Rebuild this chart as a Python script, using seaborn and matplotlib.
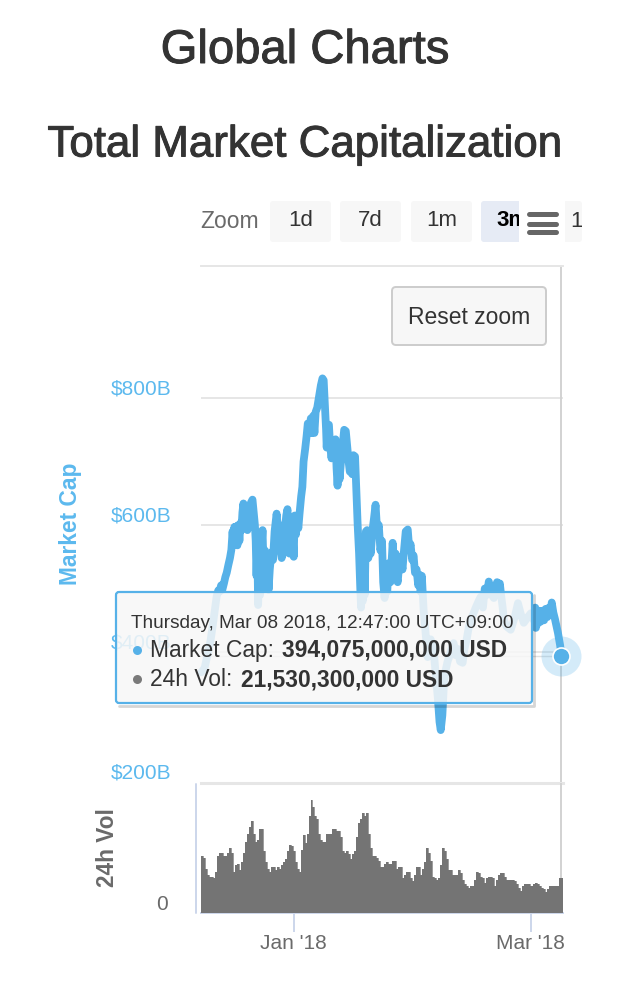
import matplotlib
matplotlib.use("Agg")
import matplotlib.pyplot as plt
import matplotlib.dates as mdates
import matplotlib.patheffects as pe
from matplotlib.patches import FancyBboxPatch, Rectangle
from matplotlib.transforms import ScaledTranslation
import numpy as np
import pandas as pd
import seaborn as sns

# market cap readings, days since Dec 9 2017 / billions USD
cap_days = [0.1, 0.9, 1.6, 2.4, 3.1, 3.9, 4.3, 4.6, 5.0, 5.3,
            5.7, 6.05, 6.4, 6.8, 7.2, 7.55, 7.85, 8.05, 8.3, 8.55,
            8.8, 9.05, 9.3, 9.55, 9.8, 10.05, 10.3, 10.55, 10.8, 11.05,
            11.3, 11.55, 11.8, 12.05, 12.4, 12.8, 13.1, 13.4, 13.6, 13.8,
            14.0, 14.2, 14.45, 14.7, 15.0, 15.3, 15.6, 15.9, 16.2, 16.5,
            16.8, 17.1, 17.5, 17.9, 18.3, 18.8, 19.2, 19.5, 19.8, 20.05,
            20.4, 20.8, 21.2, 21.5, 21.8, 22.0, 22.3, 22.75, 23.05, 23.3,
            23.6, 23.9, 24.2, 24.5, 24.9, 25.2, 25.5, 25.9, 26.25, 26.55,
            27.0, 27.3, 27.6, 27.9, 28.2, 28.5, 28.9, 29.4, 29.8, 30.2,
            30.5, 30.8, 31.1, 31.25, 31.5, 31.8, 32.1, 32.45, 32.8, 33.1,
            33.45, 33.7, 33.95, 34.2, 34.45, 34.8, 35.2, 35.6, 36.0, 36.4,
            36.7, 37.0, 37.3, 37.6, 37.9, 38.3, 38.6, 38.95, 39.3, 39.6,
            39.8, 40.0, 40.2, 40.45, 40.7, 41.0, 41.3, 41.6, 41.9, 42.2,
            42.6, 43.0, 43.4, 43.8, 44.2, 44.6, 45.0, 45.3, 45.65, 45.95,
            46.3, 46.7, 47.1, 47.65, 48.0, 48.4, 48.6, 48.9, 49.3, 49.65,
            50.1, 50.4, 50.9, 51.4, 51.8, 52.1, 52.5, 52.85, 53.2, 53.6,
            54.0, 54.3, 54.6, 54.9, 55.35, 55.7, 56.35, 57.1, 57.85, 58.4,
            58.85, 59.3, 59.6, 60.0, 60.4, 60.85, 61.3, 61.85, 62.3, 62.8,
            63.3, 63.8, 64.4, 65.05, 65.5, 66.05, 66.6, 67.05, 67.7, 68.3,
            69.0, 69.55, 70.1, 70.55, 71.1, 71.55, 71.9, 72.3, 72.8, 73.2,
            73.6, 73.9, 74.3, 74.6, 75.0, 75.3, 76.0, 77.0, 78.0, 78.8,
            79.5, 80.25, 81.25, 82.0, 82.75, 83.1, 83.25, 83.5, 83.8, 84.1,
            84.5, 84.9, 85.3, 85.7, 86.1, 86.5, 86.9, 87.2, 87.6, 88.0,
            88.75, 89.3, 89.6]
cap_values = [368, 375, 395, 419, 450, 488, 497, 495, 505, 498,
              508, 518, 525, 537, 548, 561, 590, 570, 597, 570,
              598, 568, 600, 575, 603, 592, 620, 634, 600, 626,
              595, 592, 605, 618, 635, 640, 620, 600, 575, 520,
              570, 474, 530, 490, 560, 592, 520, 560, 500, 540,
              498, 530, 557, 545, 590, 618, 590, 600, 560, 548,
              555, 590, 615, 625, 585, 555, 600, 590, 550, 615,
              585, 612, 595, 618, 645, 660, 700, 720, 740, 760,
              745, 768, 745, 772, 745, 778, 785, 805, 820, 831,
              828, 790, 750, 722, 755, 758, 725, 705, 732, 705,
              735, 690, 662, 700, 672, 700, 725, 750, 748, 720,
              700, 684, 700, 680, 710, 708, 660, 600, 555, 500,
              470, 530, 480, 545, 490, 590, 592, 548, 570, 555,
              590, 610, 632, 590, 600, 560, 575, 510, 485, 520,
              495, 540, 510, 572, 540, 555, 520, 510, 540, 550,
              530, 555, 590, 593, 560, 570, 545, 552, 525, 530,
              505, 522, 495, 520, 466, 440, 392, 420, 403, 360,
              330, 290, 277, 300, 350, 372, 385, 395, 405, 414,
              395, 405, 385, 383, 405, 420, 440, 450, 460, 470,
              480, 487, 470, 500, 490, 511, 500, 490, 485, 500,
              510, 495, 508, 490, 470, 450, 440, 435, 455, 477,
              460, 446, 455, 461, 450, 470, 438, 462, 445, 465,
              448, 465, 450, 468, 455, 470, 460, 478, 462, 452,
              430, 410, 394.075]

# 24h volume per half-day step, billions USD
vol_values = [36, 35, 28, 24, 23, 23, 22, 26, 36, 38, 38, 36, 36, 38, 41, 38, 26, 30, 31, 27,
              32, 38, 45, 50, 54, 58, 50, 45, 46, 53, 53, 39, 32, 28, 26, 29, 29, 27, 29, 28,
              30, 32, 34, 39, 43, 42, 39, 32, 28, 26, 40, 49, 44, 50, 61, 71, 67, 61, 59, 50,
              46, 45, 45, 50, 50, 50, 53, 53, 52, 52, 48, 39, 38, 39, 37, 34, 37, 39, 48, 57,
              59, 63, 61, 63, 50, 41, 36, 36, 35, 33, 29, 29, 31, 32, 31, 31, 33, 33, 28, 29,
              29, 22, 24, 26, 26, 22, 20, 24, 29, 29, 24, 28, 32, 41, 38, 33, 23, 22, 21, 22,
              30, 41, 39, 34, 27, 27, 24, 24, 24, 27, 25, 21, 18, 17, 16, 17, 17, 21, 26, 25,
              23, 22, 19, 22, 23, 23, 22, 17, 21, 24, 25, 25, 23, 21, 21, 21, 21, 20, 18, 16,
              14, 17, 18, 18, 18, 17, 17, 18, 19, 18, 17, 16, 15, 13, 15, 17, 17, 17, 17, 17,
              22, 22]
vol_step_days = 0.495

cap_ticks = [200, 400, 600, 800]
cap_tick_labels = ["$200B", "$400B", "$600B", "$800B"]
date_ticks = ["2018-01-01", "2018-03-01"]

BLUE = "#56b1e8"
LABEL_BLUE = "#5cb9ee"
GREY_TEXT = "#6a6a6a"
DARK = "#333333"
AXIS_BLUE = "#ccd6eb"

W, H = 640, 986


def px_axes(left, top, right, bottom):
    return fig.add_axes([left / W, 1 - bottom / H, (right - left) / W, (bottom - top) / H])


sns.set_theme(style="white")
plt.rcParams["font.family"] = ["Liberation Sans", "DejaVu Sans"]

start = pd.Timestamp("2017-12-09")
cap_df = pd.DataFrame({"date": start + pd.to_timedelta(cap_days, unit="D"), "cap": cap_values})
vol_df = pd.DataFrame({"date": start + pd.to_timedelta(np.arange(len(vol_values)) * vol_step_days, unit="D"),
                       "vol": vol_values})
x_range = (start, start + pd.Timedelta(days=90))
last_date = cap_df["date"].iloc[-1]

fig = plt.figure(figsize=(W / 100, H / 100), dpi=100, facecolor="white")

# market cap pane
ax = px_axes(201, 266, 563, 783)
ax.axvline(last_date, color="#d2d2d2", lw=1.4, zorder=1)
ax.hlines(cap_values[-1], start, last_date, color="#e0e0e0", lw=1, zorder=1)
sns.lineplot(data=cap_df, x="date", y="cap", ax=ax, color=BLUE, lw=5.6, zorder=3, clip_on=False,
             solid_capstyle="round", solid_joinstyle="round", estimator=None, sort=False)
last = cap_df.iloc[[-1]]
sns.scatterplot(data=last, x="date", y="cap", ax=ax, s=830, color=BLUE, alpha=0.25, lw=0, zorder=4, clip_on=False)
sns.scatterplot(data=last, x="date", y="cap", ax=ax, s=150, color=BLUE, edgecolor="white", lw=1.2, zorder=5, clip_on=False)
ax.set_xlim(*x_range)
ax.set_ylim(193.7, 1008)
ax.set_xticks([])
ax.set_xlabel("")
ax.set_ylabel("")
ax.set_yticks(cap_ticks)
ax.set_yticklabels(cap_tick_labels, color=LABEL_BLUE, fontsize=15)
ax.tick_params(axis="y", length=0, pad=21.5)
ax.yaxis.grid(True, color="#e6e6e6", lw=1.4)
ax.get_ygridlines()[0].set_visible(False)
ax.set_axisbelow(True)
for lab, lift_px in zip(ax.get_yticklabels(), [8, 11, 11, 11]):
    lab.set_transform(lab.get_transform() + ScaledTranslation(0, lift_px / 100, fig.dpi_scale_trans))
for side in ["left", "right"]:
    ax.spines[side].set_visible(False)
ax.spines["top"].set_color("#e6e6e6")
ax.spines["top"].set_linewidth(1.4)
ax.spines["bottom"].set_color("#e6e6e6")
ax.spines["bottom"].set_linewidth(2.2)
ax.patch.set_alpha(0)

# volume pane
ax2 = px_axes(201, 783, 563, 913)
ax2.plot([last_date, last_date], [0, 82], color="#d2d2d2", lw=1.4, zorder=1)
ax2.fill_between(vol_df["date"], vol_df["vol"], 0, step="post", color="#747474", lw=0, zorder=3)
ax2.fill_between([vol_df["date"].iloc[-1], x_range[1]], vol_values[-1], 0, color="#747474", lw=0, zorder=3)
sns.lineplot(data=vol_df, x="date", y="vol", ax=ax2, color="#747474", lw=0.5, drawstyle="steps-post",
             estimator=None, zorder=3)
ax2.set_xlim(*x_range)
ax2.set_ylim(0, 82)
ax2.set_xlabel("")
ax2.set_ylabel("")
ax2.set_yticks([])
ax2.set_xticks(pd.to_datetime(date_ticks))
ax2.xaxis.set_major_formatter(mdates.DateFormatter("%b '%y"))
ax2.tick_params(axis="x", bottom=True, length=13.5, width=1.4, color=AXIS_BLUE, labelcolor=GREY_TEXT,
                labelsize=15, pad=1.7)
for side in ["left", "right", "top"]:
    ax2.spines[side].set_visible(False)
ax2.spines["bottom"].set_color(AXIS_BLUE)
ax2.spines["bottom"].set_linewidth(1.4)
ax2.patch.set_alpha(0)

# page furniture, in pixel coordinates
ui = fig.add_axes([0, 0, 1, 1], zorder=10)
ui.set_xlim(0, W)
ui.set_ylim(H, 0)
ui.axis("off")
ui.patch.set_alpha(0)


def box(x0, y0, x1, y1, fc, ec="none", lw=0, r=3, alpha=None, z=2):
    ui.add_patch(FancyBboxPatch((x0, y0), x1 - x0, y1 - y0, boxstyle=f"round,pad=0,rounding_size={r}",
                                fc=fc, ec=ec, lw=lw, alpha=alpha, zorder=z))


heavier = [pe.withStroke(linewidth=0.7, foreground=DARK)]
ui.text(305, 51, "Global Charts", ha="center", va="center", fontsize=34, color=DARK, path_effects=heavier)
ui.text(305, 145, "Total Market Capitalization", ha="center", va="center", fontsize=31.6, color=DARK, path_effects=heavier)

ui.text(200, 222, "Zoom", ha="left", va="center", fontsize=16.5, color=GREY_TEXT)
for x0, x1, label in [(270, 331, "1d"), (340, 401, "7d"), (411, 472, "1m")]:
    box(x0, 201, x1, 242, "#f7f7f7")
    ui.text((x0 + x1) / 2, 221, label, ha="center", va="center", fontsize=16, color=DARK)
box(481, 201, 540, 242, "#e6ebf5")
ui.text(496, 221, "3m", ha="left", va="center", fontsize=16, color="black", fontweight="bold")
box(550, 201, 582, 242, "#f7f7f7")
ui.text(570, 221, "1y", ha="left", va="center", fontsize=16, color=DARK, zorder=3)
ui.add_patch(Rectangle((519, 200), 46, 44, fc="white", ec="none", zorder=5))
for y in [214, 224, 232]:
    ui.plot([529, 556], [y, y], color="#666666", lw=3.6, solid_capstyle="round", zorder=6)
# crop what pokes out past the right edge of the range buttons
ui.add_patch(Rectangle((582, 198), 58, 48, fc="white", ec="none", zorder=6))

box(392, 287, 546, 345, "#f7f7f7", ec="#cccccc", lw=1.4, r=4)
ui.text(469, 317, "Reset zoom", ha="center", va="center", fontsize=16.5, color=DARK)

ui.text(70, 524, "Market Cap", rotation=90, ha="center", va="center", fontsize=16.4, fontweight="bold", color=LABEL_BLUE)
ui.text(107, 848, "24h Vol", rotation=90, ha="center", va="center", fontsize=16.3, fontweight="bold", color=GREY_TEXT)
ui.text(168, 904, "0", ha="right", va="center", fontsize=15, color=GREY_TEXT)
ui.plot([196, 196], [784, 913], color=AXIS_BLUE, lw=1.4)

# tooltip
box(116, 592, 532, 703, "#f7f7f7", alpha=0.86, r=3, z=3)
ui.plot([119, 534, 534], [705.5, 705.5, 595], color="#000000", alpha=0.16, lw=2, zorder=3)
box(116, 592, 532, 703, "none", ec=BLUE, lw=1.6, r=3, z=4)
ui.text(131, 623, "Thursday, Mar 08 2018, 12:47:00 UTC+09:00", ha="left", va="center", fontsize=13.65, color=DARK, zorder=5)
ui.scatter([137], [650], s=42, color=BLUE, lw=0, zorder=5)
ui.text(150, 650, "Market Cap:", ha="left", va="center", fontsize=16.4, color=DARK, zorder=5)
ui.text(282, 650, "394,075,000,000 USD", ha="left", va="center", fontsize=16.4, fontweight="bold", color=DARK, zorder=5)
ui.scatter([137], [679], s=42, color="#7a7a7a", lw=0, zorder=5)
ui.text(150, 680, "24h Vol:", ha="left", va="center", fontsize=16.4, color=DARK, zorder=5)
ui.text(241, 680, "21,530,300,000 USD", ha="left", va="center", fontsize=16.4, fontweight="bold", color=DARK, zorder=5)

fig.savefig("out.png", dpi=100, facecolor="white")
